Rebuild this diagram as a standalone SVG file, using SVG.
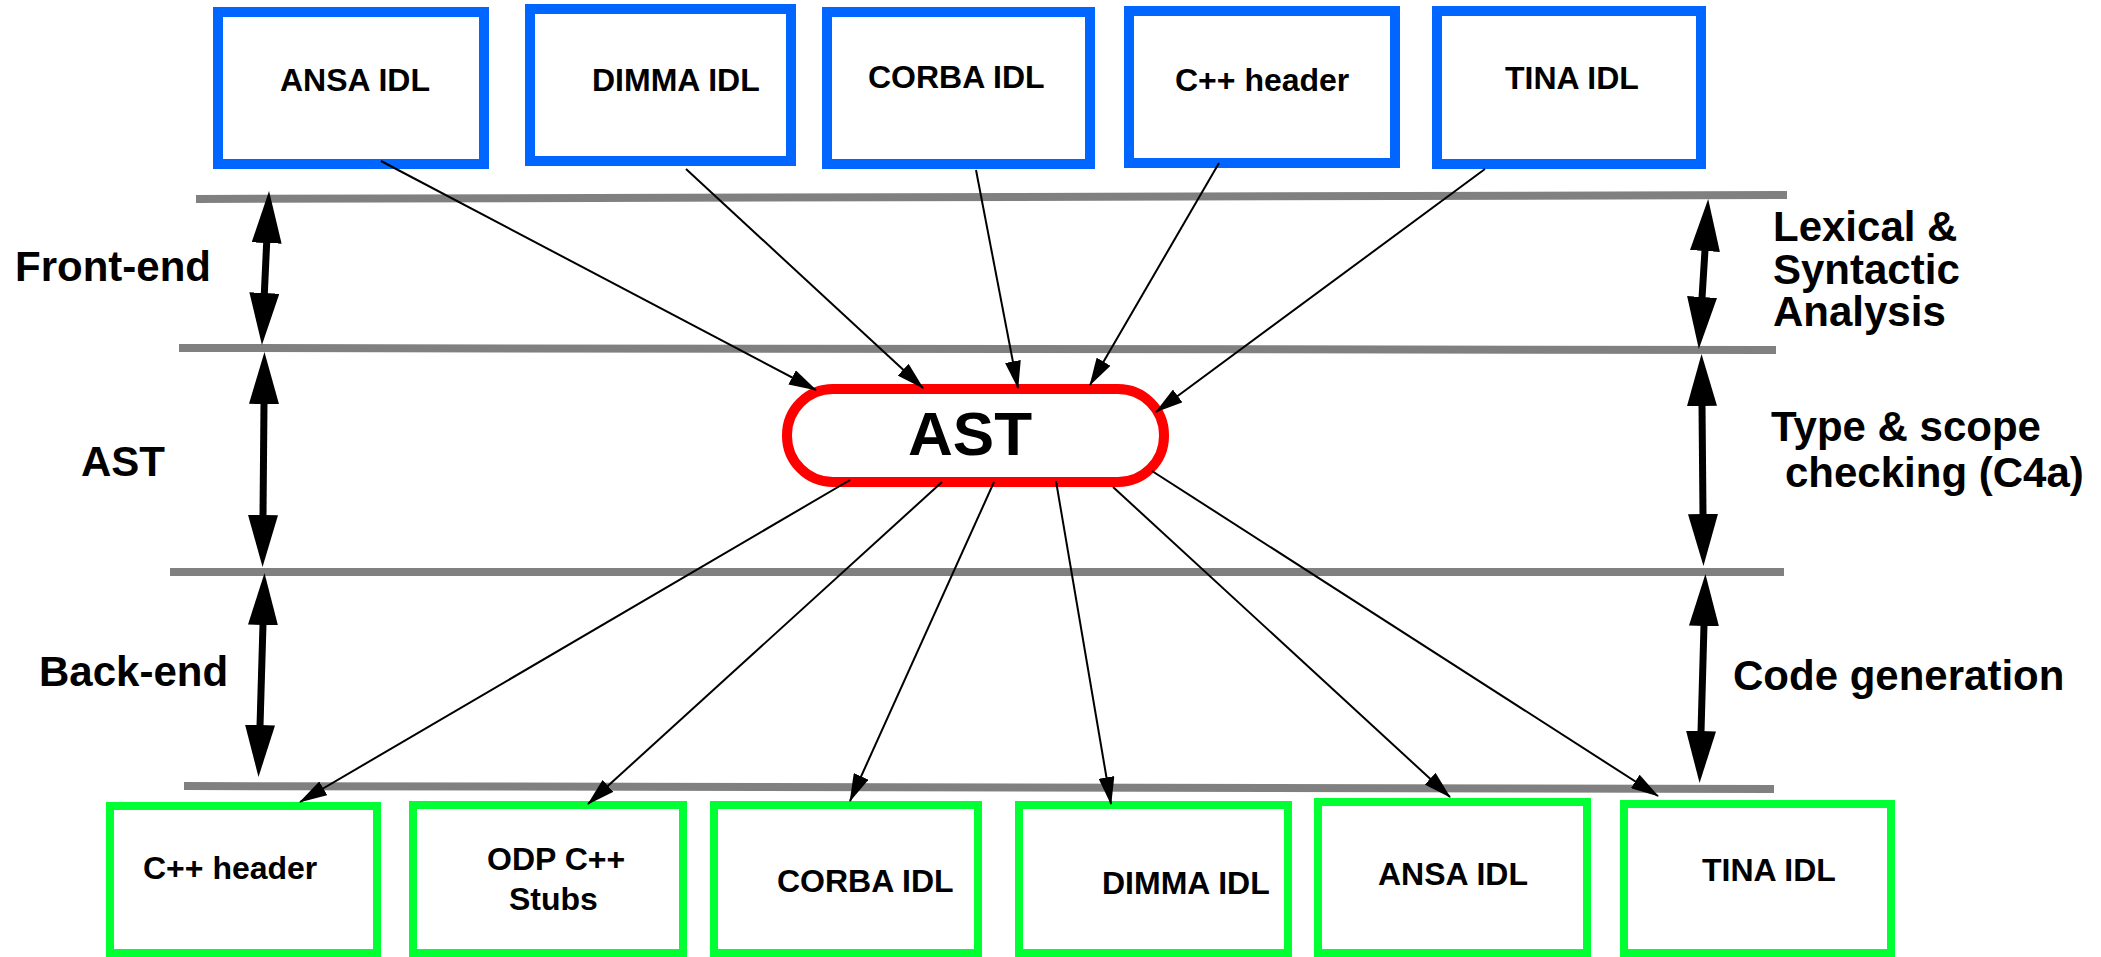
<svg xmlns="http://www.w3.org/2000/svg" width="2101" height="957" viewBox="0 0 2101 957">
<defs>
<style>
.src{fill:#fff;stroke:#0066ff;stroke-width:10}
.dst{fill:#fff;stroke:#00ff33;stroke-width:8}
.ast{fill:#fff;stroke:#ff0000;stroke-width:10}
.lvl{stroke:#808080;stroke-width:8;fill:none}
.thin{stroke:#000;stroke-width:2;fill:none;marker-end:url(#ah)}
.thick{stroke:#000;stroke-width:7;fill:none;marker-start:url(#big);marker-end:url(#big)}
text{font-family:"Liberation Sans",Arial,Helvetica,sans-serif;font-weight:bold;fill:#000}
.bx{font-size:32px}
.lb{font-size:42px}
</style>
<marker id="ah" markerUnits="userSpaceOnUse" viewBox="0 0 28 16" refX="27" refY="8" markerWidth="28" markerHeight="16" orient="auto">
<path d="M0,0 L28,8 L0,16 z" fill="#000"/>
</marker>
<marker id="big" markerUnits="userSpaceOnUse" viewBox="0 0 52 30" refX="1" refY="15" markerWidth="52" markerHeight="30" orient="auto-start-reverse">
<path d="M0,0 L52,15 L0,30 z" fill="#000"/>
</marker>
</defs>
<rect width="2101" height="957" fill="#fff"/>

<g id="levels">
<line class="lvl" x1="196" y1="199" x2="1787" y2="195"/>
<line class="lvl" x1="179" y1="348" x2="1776" y2="350"/>
<line class="lvl" x1="170" y1="572" x2="1784" y2="572"/>
<line class="lvl" x1="184" y1="786" x2="1774" y2="789"/>
</g>

<g id="phase-arrows">
<line class="thick" x1="266.7" y1="242" x2="264.3" y2="294"/>
<line class="thick" x1="264" y1="403" x2="263" y2="516"/>
<line class="thick" x1="263" y1="624" x2="260" y2="726"/>
<line class="thick" x1="1705" y1="250" x2="1702" y2="298"/>
<line class="thick" x1="1702" y1="405" x2="1703" y2="515"/>
<line class="thick" x1="1704" y1="625" x2="1701" y2="732"/>
</g>

<g id="labels">
<text class="lb" x="15" y="281">Front-end</text>
<text class="lb" x="81" y="476">AST</text>
<text class="lb" x="39" y="686">Back-end</text>
<text class="lb" x="1773" y="241">Lexical &amp;</text>
<text class="lb" x="1773" y="284">Syntactic</text>
<text class="lb" x="1773" y="326">Analysis</text>
<text class="lb" x="1771" y="441">Type &amp; scope</text>
<text class="lb" x="1785" y="487">checking (C4a)</text>
<text class="lb" x="1733" y="690">Code generation</text>
</g>

<g id="src-ansa"><rect class="src" x="218" y="12" width="266" height="152"/><text class="bx" x="280" y="91">ANSA IDL</text></g>
<g id="src-dimma"><rect class="src" x="530" y="9" width="261" height="152"/><text class="bx" x="592" y="91">DIMMA IDL</text></g>
<g id="src-corba"><rect class="src" x="827" y="12" width="263" height="152"/><text class="bx" x="868" y="88">CORBA IDL</text></g>
<g id="src-cpp"><rect class="src" x="1129" y="11" width="266" height="152"/><text class="bx" x="1175" y="91">C++ header</text></g>
<g id="src-tina"><rect class="src" x="1437" y="11" width="264" height="153"/><text class="bx" x="1505" y="89">TINA IDL</text></g>

<g id="ast-node"><rect class="ast" x="787" y="389" width="377" height="93" rx="46" ry="46"/><text x="908" y="455" font-size="62">AST</text></g>

<g id="dst-cpp"><rect class="dst" x="110" y="806" width="267" height="147"/><text class="bx" x="143" y="879">C++ header</text></g>
<g id="dst-odp"><rect class="dst" x="413" y="805" width="270" height="148"/><text class="bx" x="487" y="870">ODP C++</text><text class="bx" x="509" y="910">Stubs</text></g>
<g id="dst-corba"><rect class="dst" x="714" y="805" width="264" height="148"/><text class="bx" x="777" y="892">CORBA IDL</text></g>
<g id="dst-dimma"><rect class="dst" x="1019" y="805" width="269" height="148"/><text class="bx" x="1102" y="894">DIMMA IDL</text></g>
<g id="dst-ansa"><rect class="dst" x="1318" y="802" width="269" height="151"/><text class="bx" x="1378" y="885">ANSA IDL</text></g>
<g id="dst-tina"><rect class="dst" x="1624" y="804" width="267" height="149"/><text class="bx" x="1702" y="881">TINA IDL</text></g>

<g id="connectors">
<line class="thin" x1="381" y1="161" x2="816" y2="390"/>
<line class="thin" x1="686" y1="169" x2="923" y2="388"/>
<line class="thin" x1="976" y1="170" x2="1018" y2="388"/>
<line class="thin" x1="1219" y1="163" x2="1090" y2="385"/>
<line class="thin" x1="1485" y1="169" x2="1156" y2="412"/>
<line class="thin" x1="850" y1="480" x2="300" y2="802"/>
<line class="thin" x1="942" y1="482" x2="588" y2="804"/>
<line class="thin" x1="994" y1="482" x2="850" y2="801"/>
<line class="thin" x1="1056" y1="481" x2="1111" y2="804"/>
<line class="thin" x1="1113" y1="487" x2="1450" y2="797"/>
<line class="thin" x1="1152" y1="471" x2="1658" y2="796"/>
</g>
</svg>
